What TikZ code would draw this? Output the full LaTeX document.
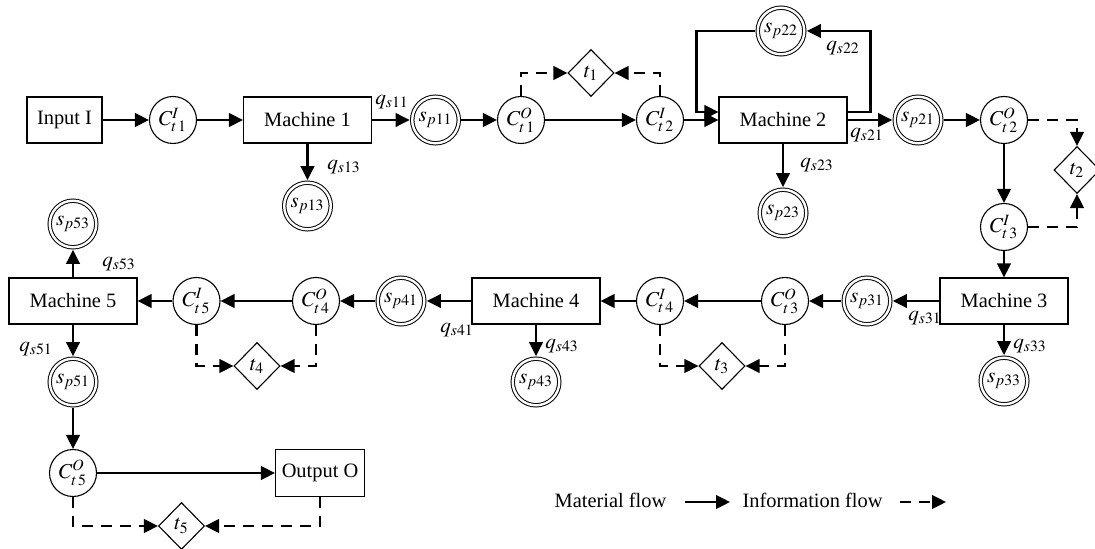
\documentclass[tikz,border=0pt]{standalone}
\usepackage{mathptmx}
\usepackage{fontspec}
\setmainfont{Liberation Serif}
\usetikzlibrary{shapes.geometric,arrows.meta}

\tikzset{
  box/.style={draw, line width=0.55pt, minimum width=64pt, minimum height=23pt, inner sep=0pt},
  cnode/.style={circle, draw, line width=0.55pt, minimum size=23.5pt, inner sep=0pt},
  snode/.style={circle, draw, double, double distance=1.2pt, line width=0.5pt,
                minimum size=23.3pt, inner sep=0pt, outer sep=1.3pt},
  tnode/.style={diamond, draw, line width=0.55pt, minimum width=23pt, minimum height=23.5pt, inner sep=0pt},
  flow/.style={line width=1.1pt, -{Triangle[length=7pt,width=6.8pt]}},
  info/.style={flow, dash pattern=on 5.5pt off 4pt},
  lbl/.style={inner sep=0pt},
  inlbl/.style={font=\fontsize{10.6}{12}\selectfont},
}

\begin{document}
\begin{tikzpicture}[x=0.5pt, y=-0.5pt, font=\fontsize{10.2}{12}\selectfont]
\useasboundingbox (0,0) rectangle (1095,549);

% ---------- first line: Input I to Machine 2 ----------
\node[box, minimum width=37.5pt] (in) at (64.5,120) {Input I};
\node[cnode, inlbl] (ct1i) at (173,120) {$C^{I}_{t\,1}$};
\node[box] (m1) at (307.5,120) {Machine 1};
\node[snode, inlbl] (sp11) at (435.5,120) {$s_{p11}$};
\node[snode, inlbl] (sp13) at (307.5,206) {$s_{p13}$};
\node[cnode, inlbl] (ct1o) at (521,120) {$C^{O}_{t\,1}$};
\node[tnode, inlbl] (t1) at (591,73) {$t_{1}$};
\node[cnode, inlbl] (ct2i) at (660,120) {$C^{I}_{t\,2}$};
\node[box] (m2) at (783,120) {Machine 2};
\node[snode, inlbl] (sp22) at (781,31) {$s_{p22}$};
\node[snode, inlbl] (sp23) at (783,213) {$s_{p23}$};
\node[snode, inlbl] (sp21) at (918,120) {$s_{p21}$};
\node[cnode, inlbl] (ct2o) at (1004,120) {$C^{O}_{t\,2}$};
\node[tnode, inlbl] (t2) at (1077,170) {$t_{2}$};
\node[cnode, inlbl] (ct3i) at (1004,227) {$C^{I}_{t\,3}$};

% ---------- second line: Machine 3 back to Machine 5 ----------
\node[box] (m3) at (1004,301) {Machine 3};
\node[snode, inlbl] (sp33) at (1004,381) {$s_{p33}$};
\node[snode, inlbl] (sp31) at (867,301) {$s_{p31}$};
\node[cnode, inlbl] (ct3o) at (785,301) {$C^{O}_{t\,3}$};
\node[tnode, inlbl] (t3) at (722,366) {$t_{3}$};
\node[cnode, inlbl] (ct4i) at (660,301) {$C^{I}_{t\,4}$};
\node[box] (m4) at (536,301) {Machine 4};
\node[snode, inlbl] (sp43) at (536,382) {$s_{p43}$};
\node[snode, inlbl] (sp41) at (401,301) {$s_{p41}$};
\node[cnode, inlbl] (ct4o) at (316,301) {$C^{O}_{t\,4}$};
\node[tnode, inlbl] (t4) at (257,366) {$t_{4}$};
\node[cnode, inlbl] (ct5i) at (196.5,301) {$C^{I}_{t\,5}$};
\node[box] (m5) at (73,301) {Machine 5};
\node[snode, inlbl] (sp53) at (73,224) {$s_{p53}$};
\node[snode, inlbl] (sp51) at (73,382) {$s_{p51}$};
\node[cnode, inlbl] (ct5o) at (73,473) {$C^{O}_{t\,5}$};
\node[box, minimum width=44.5pt, minimum height=23.5pt] (out) at (320,473) {Output O};
\node[tnode, inlbl] (t5) at (181.5,526) {$t_{5}$};

% ---------- flow quantities ----------
\node[lbl, inlbl] (q11) at (392,102) {$q_{s11}$};
\node[lbl, inlbl] (q13) at (344,167) {$q_{s13}$};
\node[lbl, inlbl] (q22) at (843,48) {$q_{s22}$};
\node[lbl, inlbl] (q21) at (867,135) {$q_{s21}$};
\node[lbl, inlbl] (q23) at (817,165) {$q_{s23}$};
\node[lbl, inlbl] (q33) at (1030,346) {$q_{s33}$};
\node[lbl, inlbl] (q31) at (925,318) {$q_{s31}$};
\node[lbl, inlbl] (q43) at (562,346) {$q_{s43}$};
\node[lbl, inlbl] (q41) at (457,330) {$q_{s41}$};
\node[lbl, inlbl] (q53) at (119,264) {$q_{s53}$};
\node[lbl, inlbl] (q51) at (36,349) {$q_{s51}$};

% ---------- material flow ----------
\draw[flow] (in) -- (ct1i);
\draw[flow] (ct1i) -- (m1);
\draw[flow] (m1) -- (sp11);
\draw[flow] (m1) -- (sp13);
\draw[flow] (sp11) -- (ct1o);
\draw[flow] (ct1o) -- (ct2i);
\draw[flow] (ct2i) -- (m2);
\draw[flow] ([yshift=4pt]m2.east) -- ++(23,0) |- (sp22);
\draw[flow] (sp22) -| ([xshift=-11pt,yshift=4pt]m2.west) -- ([yshift=4pt]m2.west);
\draw[flow] (m2) -- (sp23);
\draw[flow] (m2) -- (sp21);
\draw[flow] (sp21) -- (ct2o);
\draw[flow] (ct2o) -- (ct3i);
\draw[flow] (ct3i) -- (m3);
\draw[flow] (m3) -- (sp33);
\draw[flow] (m3) -- (sp31);
\draw[flow] (sp31) -- (ct3o);
\draw[flow] (ct3o) -- (ct4i);
\draw[flow] (ct4i) -- (m4);
\draw[flow] (m4) -- (sp43);
\draw[flow] (m4) -- (sp41);
\draw[flow] (sp41) -- (ct4o);
\draw[flow] (ct4o) -- (ct5i);
\draw[flow] (ct5i) -- (m5);
\draw[flow] (m5) -- (sp53);
\draw[flow] (m5) -- (sp51);
\draw[flow] (sp51) -- (ct5o);
\draw[flow] (ct5o) -- (out);

% ---------- information flow ----------
\draw[info] (ct1o) |- (t1);
\draw[info] (ct2i) |- (t1);
\draw[info] (ct2o) -| (t2);
\draw[info] (ct3i) -| (t2);
\draw[info] (ct4i) |- (t3);
\draw[info] (ct3o) |- (t3);
\draw[info] (ct5i) |- (t4);
\draw[info] (ct4o) |- (t4);
\draw[info] (ct5o) |- (t5);
\draw[info] (out) |- (t5);

% ---------- legend ----------
\node[lbl] (lmat) at (610.5,500) {Material flow};
\coordinate (lm1) at (685,502);
\coordinate (lm2) at (730,502);
\draw[flow] (lm1) -- (lm2);
\node[lbl] (linf) at (812.5,500) {Information flow};
\coordinate (li1) at (900,502);
\coordinate (li2) at (946,502);
\draw[info] (li1) -- (li2);
\end{tikzpicture}
\end{document}
